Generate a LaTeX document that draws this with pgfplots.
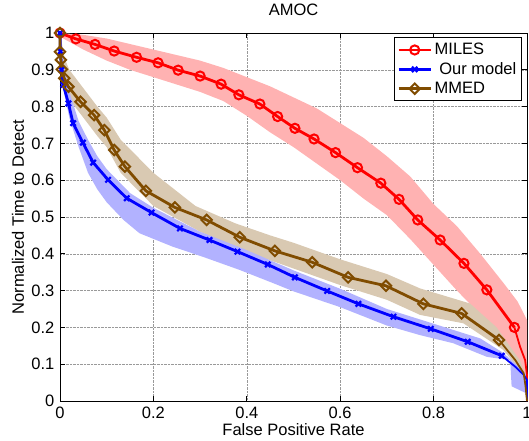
\documentclass[border=0pt]{standalone}
\usepackage{fontspec}
\setmainfont{Liberation Sans}
\usepackage{pgfplots}
\pgfplotsset{compat=1.18}
\usepgfplotslibrary{fillbetween}

\definecolor{milesred}{rgb}{1,0,0}
\definecolor{milesband}{rgb}{1,0.7,0.7}
\definecolor{ourblue}{rgb}{0,0,1}
\definecolor{ourband}{rgb}{0.7,0.7,1}
\definecolor{mmedbrown}{rgb}{0.5,0.3,0}
\definecolor{mmedband}{rgb}{0.85,0.79,0.7}

\begin{document}
\fontsize{16.5}{19}\selectfont
\begin{tikzpicture}
\begin{axis}[name=ax, scale only axis, width=467pt, height=368pt,
  xmin=0, xmax=1, ymin=0, ymax=1, clip=false,
  xtick={0,0.2,0.4,0.6,0.8,1}, xticklabels={0,0.2,0.4,0.6,0.8,1},
  ytick={0,0.1,0.2,0.3,0.4,0.5,0.6,0.7,0.8,0.9,1},
  yticklabels={0,0.1,0.2,0.3,0.4,0.5,0.6,0.7,0.8,0.9,1},
  tick align=inside, major tick length=5pt,
  tick style={black, line width=0.8pt},
  axis line style={line width=1pt},
  grid=major, grid style={densely dotted, gray!80, line width=0.6pt},
  title={AMOC},
  title style={at={(axis description cs:0.5,1.047)}, anchor=center},
  xlabel={False Positive Rate},
  every axis x label/.style={at={(axis description cs:0.5,-0.079)}, anchor=center},
  ylabel={Normalized Time to Detect},
  every axis y label/.style={at={(axis description cs:-0.09,0.5)}, rotate=90, anchor=center},
  legend style={at={(0.989,0.988)}, anchor=north east, draw=black, line width=0.9pt,
    cells={anchor=west}, inner sep=2.5pt, row sep=0pt,
    nodes={inner sep=2.6pt}},
  legend image code/.code={\draw[mark repeat=2, mark phase=2, #1]
    plot coordinates {(0pt,0pt) (16pt,0pt) (32pt,0pt)};},
]

% bands
\addplot[name path=ru, draw=none, forget plot] coordinates {
(0,1.0)(0.05,0.995)(0.1,0.985)(0.15,0.97)(0.2,0.955)(0.25,0.94)(0.3,0.925)
(0.35,0.905)(0.4,0.88)(0.45,0.855)(0.5,0.825)(0.55,0.795)(0.6,0.755)(0.65,0.715)
(0.7,0.665)(0.75,0.61)(0.8,0.535)(0.85,0.475)(0.9,0.40)(0.95,0.32)(0.98,0.27)
(1.0,0.22)(1,0)};
\addplot[name path=rl, draw=none, forget plot] coordinates {
(0,0.99)(0.05,0.955)(0.1,0.925)(0.15,0.9)(0.2,0.88)(0.25,0.86)(0.3,0.84)
(0.35,0.815)(0.4,0.775)(0.45,0.73)(0.5,0.69)(0.55,0.645)(0.6,0.6)(0.65,0.55)
(0.7,0.505)(0.75,0.44)(0.8,0.37)(0.85,0.30)(0.9,0.235)(0.95,0.17)(0.98,0.11)(1,0)};
\addplot[milesband, forget plot] fill between[of=ru and rl];

\addplot[name path=bu, draw=none, forget plot] coordinates {
(0,1)(0.01,0.93)(0.02,0.9)(0.05,0.85)(0.08,0.8)(0.1,0.77)(0.13,0.71)(0.2,0.62)
(0.29,0.53)(0.375,0.483)(0.45,0.45)(0.5,0.43)(0.6,0.385)(0.7,0.345)(0.771,0.306)
(0.878,0.265)(0.935,0.2)(0.985,0.11)(1,0.06)};
\addplot[name path=bl, draw=none, forget plot] coordinates {
(0,0.99)(0.01,0.85)(0.02,0.82)(0.05,0.77)(0.08,0.72)(0.1,0.69)(0.13,0.62)(0.2,0.53)
(0.3,0.46)(0.4,0.405)(0.5,0.36)(0.6,0.315)(0.7,0.275)(0.771,0.234)(0.864,0.211)
(0.949,0.139)(0.985,0.084)(1,0.0)};
\addplot[mmedband, forget plot] fill between[of=bu and bl];

\addplot[name path=ou, draw=none, forget plot] coordinates {
(0,1)(0.01,0.9)(0.02,0.84)(0.04,0.76)(0.06,0.71)(0.08,0.665)(0.1,0.63)(0.15,0.565)
(0.2,0.525)(0.3,0.46)(0.4,0.41)(0.5,0.355)(0.6,0.305)(0.7,0.25)(0.8,0.21)
(0.9,0.17)(0.95,0.13)(0.98,0.095)(1,0.07)};
\addplot[name path=ol, draw=none, forget plot] coordinates {
(0,0.98)(0.01,0.83)(0.02,0.77)(0.04,0.69)(0.06,0.62)(0.08,0.575)(0.1,0.54)
(0.136,0.492)(0.17,0.456)(0.24,0.42)(0.31,0.39)(0.385,0.356)(0.457,0.32)(0.5,0.298)
(0.6,0.255)(0.7,0.205)(0.771,0.179)(0.842,0.157)(0.914,0.12)(0.964,0.111)
(0.967,0.04)(1,0.02)};
\addplot[ourband, forget plot] fill between[of=ou and ol];

% MILES
\addplot[milesred, line width=2.8pt, mark=o, mark size=4.6pt,
  mark options={solid, line width=2pt}] coordinates {
(0,1.0)(0.034,0.984)(0.075,0.969)(0.116,0.951)(0.164,0.934)(0.210,0.919)
(0.253,0.899)(0.300,0.883)(0.345,0.861)(0.383,0.832)(0.428,0.807)(0.466,0.773)
(0.503,0.741)(0.544,0.712)(0.590,0.675)(0.637,0.634)(0.687,0.592)(0.726,0.548)
(0.766,0.492)(0.814,0.4375)(0.865,0.374)(0.914,0.302)(0.973,0.200)};
\addlegendentry{MILES}
\addplot[milesred, line width=1.8pt, forget plot] coordinates {
(0.973,0.200)(0.985,0.148)(0.996,0.111)(1,0.07)(1,0)};

% Our model
\addplot[ourblue, line width=2.8pt, mark=x, mark size=3.8pt,
  mark options={solid, line width=2.2pt}] coordinates {
(0,1.0)(0.001,0.95)(0.003,0.90)(0.007,0.859)(0.018,0.809)(0.028,0.755)
(0.049,0.702)(0.071,0.648)(0.103,0.601)(0.143,0.551)(0.196,0.512)(0.257,0.469)
(0.320,0.4375)(0.380,0.406)(0.445,0.371)(0.503,0.336)(0.572,0.299)(0.639,0.264)
(0.714,0.229)(0.794,0.196)(0.873,0.161)(0.946,0.123)};
\addlegendentry{\ Our model}
\addplot[ourblue, line width=1.8pt, forget plot] coordinates {
(0.946,0.123)(0.975,0.093)(0.993,0.071)(1,0.057)(1,0)};

% MMED
\addplot[mmedbrown, line width=2.8pt, mark=square, mark size=3.7pt,
  mark options={solid, line width=2pt, rotate=45}] coordinates {
(0,1.0)(0,0.949)(0.002,0.927)(0.004,0.901)(0.009,0.877)(0.018,0.854)
(0.044,0.813)(0.073,0.777)(0.095,0.736)(0.116,0.682)(0.139,0.637)(0.184,0.571)
(0.246,0.526)(0.314,0.492)(0.385,0.445)(0.460,0.408)(0.540,0.377)(0.617,0.336)
(0.698,0.313)(0.778,0.264)(0.860,0.238)(0.940,0.166)};
\addlegendentry{MMED}
\addplot[mmedbrown, line width=1.8pt, forget plot] coordinates {
(0.940,0.166)(0.975,0.111)(0.993,0.075)(0.997,0.039)(1,0)};
\end{axis}
\pgfresetboundingbox
\path ([shift={(-60pt,-39pt)}]ax.south west) rectangle ([shift={(2pt,33pt)}]ax.north east);
\end{tikzpicture}
\end{document}
